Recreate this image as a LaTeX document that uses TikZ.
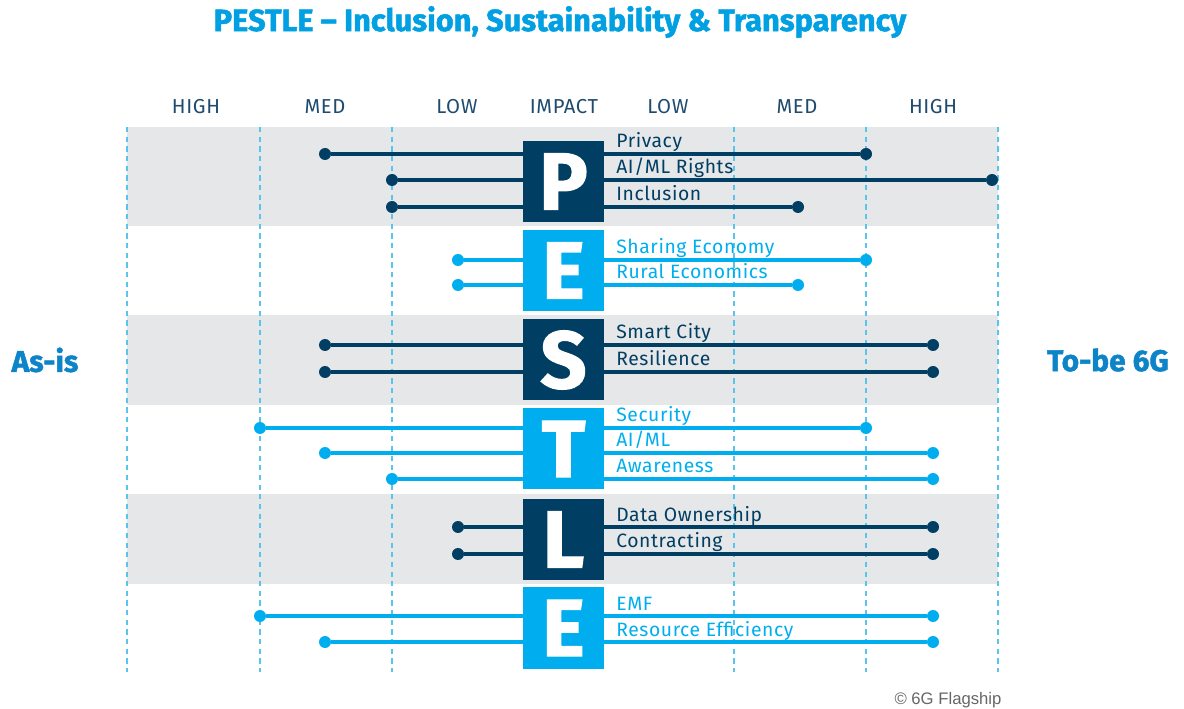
\documentclass[tikz,border=0pt]{standalone}
\usepackage{fontspec}
\setmainfont{Fira Sans}
\newfontfamily\heavyfont[Ligatures=TeX, BoldFeatures={FakeBold=1.6}]{Fira Sans}
\newfontfamily\itemfont[LetterSpace=3]{Fira Sans}
\newfontfamily\copyfont{Liberation Sans}
\usepackage{tikz}
\usetikzlibrary{calc}
\definecolor{pdark}{RGB}{0, 62, 100}
\definecolor{plight}{RGB}{0, 174, 239}
\definecolor{pgrid}{RGB}{90, 196, 236}
\definecolor{pband}{RGB}{230, 231, 232}
\definecolor{ptitle}{RGB}{0, 160, 227}
\definecolor{pside}{RGB}{13, 132, 200}
\definecolor{paxis}{RGB}{30, 75, 110}

\tikzset{
  letterbox/.style={minimum size=81*0.02cm, inner sep=0pt, text=white,
    font=\heavyfont\fontsize{46}{46}\selectfont\bfseries},
  dotdark/.style={circle, fill=pdark, inner sep=0pt, minimum size=0.24cm},
  dotlight/.style={circle, fill=plight, inner sep=0pt, minimum size=0.24cm},
  linedark/.style={pdark, line width=2pt},
  linelight/.style={plight, line width=2pt},
  itemlabel/.style={anchor=base west, inner sep=0pt, font=\itemfont\fontsize{11}{11}\selectfont},
  colhead/.style={paxis, font=\itemfont\fontsize{11.5}{11.5}\selectfont},
  gridline/.style={pgrid, line width=0.8pt, dash pattern=on 3pt off 2.5pt}
}

\begin{document}
\begin{tikzpicture}[x=0.02cm, y=-0.02cm]
\useasboundingbox (0,0) rectangle (1184,709);

% Title
\node[ptitle, font=\heavyfont\fontsize{17.5}{17.5}\selectfont\bfseries] (title) at (560,22)
  {PESTLE – Inclusion, Sustainability \& Transparency};

% Bands
\fill[pband] (127,127) rectangle (998,226);
\fill[pband] (127,315) rectangle (998,405);
\fill[pband] (127,494) rectangle (998,584);

% Grid
\draw[gridline] (127,127) -- (127,672);
\draw[gridline] (260,127) -- (260,672);
\draw[gridline] (392,127) -- (392,672);
\draw[gridline] (734,127) -- (734,672);
\draw[gridline] (866,127) -- (866,672);
\draw[gridline] (998,127) -- (998,672);

% Column heads
\node[colhead] (hl) at (196,107) {HIGH};
\node[colhead] (ml) at (325,107) {MED};
\node[colhead] (ll) at (457,107) {LOW};
\node[colhead] (imp) at (564,107) {IMPACT};
\node[colhead] (lr) at (668,107) {LOW};
\node[colhead] (mr) at (797,107) {MED};
\node[colhead] (hr) at (933,107) {HIGH};

% Side labels
\node[pside, font=\heavyfont\fontsize{17}{17}\selectfont\bfseries] (asis) at (45,360) {As-is};
\node[pside, font=\heavyfont\fontsize{17}{17}\selectfont\bfseries] (tobe) at (1108,360) {To-be 6G};

% Political
\node[dotdark] (priv1) at (325,154) {};
\node[dotdark] (priv2) at (866,154) {};
\draw[linedark] (priv1) -- (priv2);
\node[dotdark] (aiml1) at (392,180) {};
\node[dotdark] (aiml2) at (992,180) {};
\draw[linedark] (aiml1) -- (aiml2);
\node[dotdark] (incl1) at (392,207) {};
\node[dotdark] (incl2) at (798,207) {};
\draw[linedark] (incl1) -- (incl2);

% Economic
\node[dotlight] (shar1) at (458,260) {};
\node[dotlight] (shar2) at (866,260) {};
\draw[linelight] (shar1) -- (shar2);
\node[dotlight] (rur1) at (458,285) {};
\node[dotlight] (rur2) at (798,285) {};
\draw[linelight] (rur1) -- (rur2);

% Social
\node[dotdark] (city1) at (325,345) {};
\node[dotdark] (city2) at (933,345) {};
\draw[linedark] (city1) -- (city2);
\node[dotdark] (res1) at (325,372) {};
\node[dotdark] (res2) at (933,372) {};
\draw[linedark] (res1) -- (res2);

% Technological
\node[dotlight] (sec1) at (260,428) {};
\node[dotlight] (sec2) at (866,428) {};
\draw[linelight] (sec1) -- (sec2);
\node[dotlight] (ai1) at (325,453) {};
\node[dotlight] (ai2) at (933,453) {};
\draw[linelight] (ai1) -- (ai2);
\node[dotlight] (aw1) at (392,479) {};
\node[dotlight] (aw2) at (933,479) {};
\draw[linelight] (aw1) -- (aw2);

% Legal
\node[dotdark] (own1) at (458,527) {};
\node[dotdark] (own2) at (933,527) {};
\draw[linedark] (own1) -- (own2);
\node[dotdark] (con1) at (458,554) {};
\node[dotdark] (con2) at (933,554) {};
\draw[linedark] (con1) -- (con2);

% Environmental
\node[dotlight] (emf1) at (260,616) {};
\node[dotlight] (emf2) at (933,616) {};
\draw[linelight] (emf1) -- (emf2);
\node[dotlight] (reff1) at (325,642) {};
\node[dotlight] (reff2) at (933,642) {};
\draw[linelight] (reff1) -- (reff2);

% Letters
\node[letterbox, fill=pdark] (lP) at (563.5,181.5) {P};
\node[letterbox, fill=plight] (lE) at (563.5,270.5) {E};
\node[letterbox, fill=pdark] (lS) at (563.5,360) {S};
\node[letterbox, fill=plight] (lT) at (563.5,449) {T};
\node[letterbox, fill=pdark] (lL) at (563.5,539.5) {L};
\node[letterbox, fill=plight] (lE2) at (563.5,628) {E};

% Item labels
\node[itemlabel, pdark] (tpriv) at (616,148) {Privacy};
\node[itemlabel, pdark] (taiml) at (616,174) {AI/ML Rights};
\node[itemlabel, pdark] (tincl) at (616,201) {Inclusion};
\node[itemlabel, plight] (tshar) at (616,254) {Sharing Economy};
\node[itemlabel, plight] (trur) at (616,279) {Rural Economics};
\node[itemlabel, pdark] (tcity) at (616,339) {Smart City};
\node[itemlabel, pdark] (tres) at (616,366) {Resilience};
\node[itemlabel, plight] (tsec) at (616,422) {Security};
\node[itemlabel, plight] (tai) at (616,447) {AI/ML};
\node[itemlabel, plight] (taw) at (616,473) {Awareness};
\node[itemlabel, pdark] (town) at (616,521) {Data Ownership};
\node[itemlabel, pdark] (tcon) at (616,548) {Contracting};
\node[itemlabel, plight] (temf) at (616,610) {EMF};
\node[itemlabel, plight] (treff) at (616,636) {Resource Efficiency};

% Credit
\node[gray!80!black, font=\copyfont\fontsize{9.5}{9.5}\selectfont] (credit) at (948,700) {\textcopyright\ 6G Flagship};
\end{tikzpicture}
\end{document}
